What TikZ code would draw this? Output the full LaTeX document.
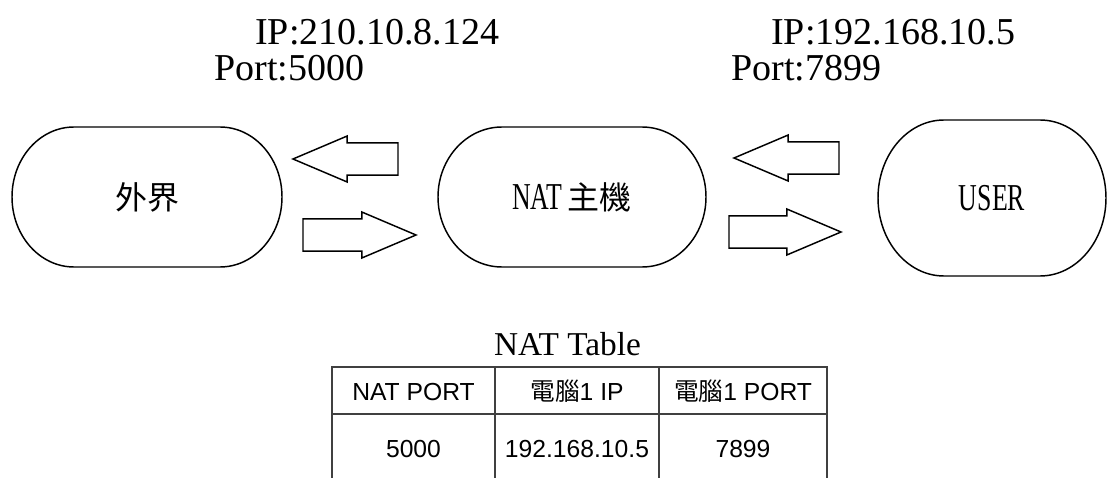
\documentclass[tikz,border=0pt]{standalone}
\usepackage{fontspec}
\setmainfont{Liberation Serif}
\newfontfamily\cjk{Noto Sans CJK TC}
\newfontfamily\narrowserif[FakeStretch=0.68]{Liberation Serif}
\newfontfamily\tablefont{Liberation Sans}
\usepackage{tikz}
\usetikzlibrary{calc,shapes.arrows}

% capsule outline round a named node: node, end x-radius, end y-radius
\newcommand{\capsule}[3]{%
  \draw[outline] ($(#1.north west)+(#2,0)$) -- ($(#1.north east)-(#2,0)$)
    arc[start angle=-90,end angle=90,x radius=#2,y radius=#3]
    -- ($(#1.south west)+(#2,0)$)
    arc[start angle=90,end angle=270,x radius=#2,y radius=#3] -- cycle;}

\begin{document}
\begin{tikzpicture}[x=0.75pt,y=0.75pt,yscale=-1,xscale=1,
  outline/.style={line width=1.1pt},
  hostbox/.style={inner sep=0pt,outer sep=0pt},
  blockarrow/.style={draw,line width=1.1pt,single arrow,single arrow tip angle=46,
    single arrow head extend=5.1pt,minimum width=33.5pt,inner xsep=0pt,inner ysep=11.6pt,outer sep=0pt},
  addrtext/.style={anchor=base west,inner sep=0pt,font=\fontsize{28.5}{32}\selectfont},
  tableline/.style={line width=1.4pt,black!75},
  celltext/.style={anchor=base,inner sep=0pt,font=\tablefont\fontsize{18.5}{22}\selectfont}]
\useasboundingbox (0,0) rectangle (1108,478);

% Text Node
\node[addrtext] (ipout) at (255,45) {IP:210.10.8.124};
% Text Node
\node[addrtext] (portout) at (214,81) {Port:5000};
% Text Node
\node[addrtext] (ipuser) at (771,45) {IP:192.168.10.5};
% Text Node
\node[addrtext] (portuser) at (731,81) {Port:7899};

%Shape: Capsule
\node[hostbox,minimum width=202.5pt,minimum height=105pt] (outside) at (147,197)
  {\cjk\fontsize{24}{28}\selectfont 外界};
\capsule{outside}{62}{70}
%Shape: Capsule
\node[hostbox,minimum width=201pt,minimum height=105pt] (nathost) at (572,197)
  {{\narrowserif\fontsize{28.5}{32}\selectfont NAT}\hspace{4pt}{\cjk\fontsize{24}{28}\selectfont 主機}};
\capsule{nathost}{64}{70}
%Shape: Capsule
\node[hostbox,minimum width=171pt,minimum height=117pt] (user) at (992,198)
  {\narrowserif\fontsize{28.5}{32}\selectfont USER};
\capsule{user}{66}{78}

%Shape: Left Arrow
\node[blockarrow,shape border rotate=180,minimum height=78.75pt,anchor=tip] (outleft) at (293,159) {};
%Shape: Right Arrow
\node[blockarrow,minimum height=84.75pt,anchor=tip] (outright) at (416,235) {};
%Shape: Left Arrow
\node[blockarrow,shape border rotate=180,minimum height=78.75pt,anchor=tip] (userleft) at (734,158) {};
%Shape: Right Arrow
\node[blockarrow,minimum height=84pt,anchor=tip] (userright) at (841,232) {};

% Text Node
\node[anchor=base,inner sep=0pt,font=\fontsize{25}{28}\selectfont] (tabletitle) at (567.5,355) {NAT Table};
%Straight Lines
\draw[tableline] (332,478) -- (332,367) -- (827,367) -- (827,478);
\draw[tableline] (332,414) -- (827,414);
\draw[tableline] (495,367) -- (495,478);
\draw[tableline] (659,367) -- (659,478);

% Text Node
\node[celltext] (headport) at (413.5,400) {NAT PORT};
\node[celltext] (headip) at (577,400) {{\cjk 電腦}1 IP};
\node[celltext] (headpcport) at (743,400) {{\cjk 電腦}1 PORT};
\node[celltext] (rowport) at (413.5,457) {5000};
\node[celltext] (rowip) at (577,457) {192.168.10.5};
\node[celltext] (rowpcport) at (743,457) {7899};

\end{tikzpicture}
\end{document}
